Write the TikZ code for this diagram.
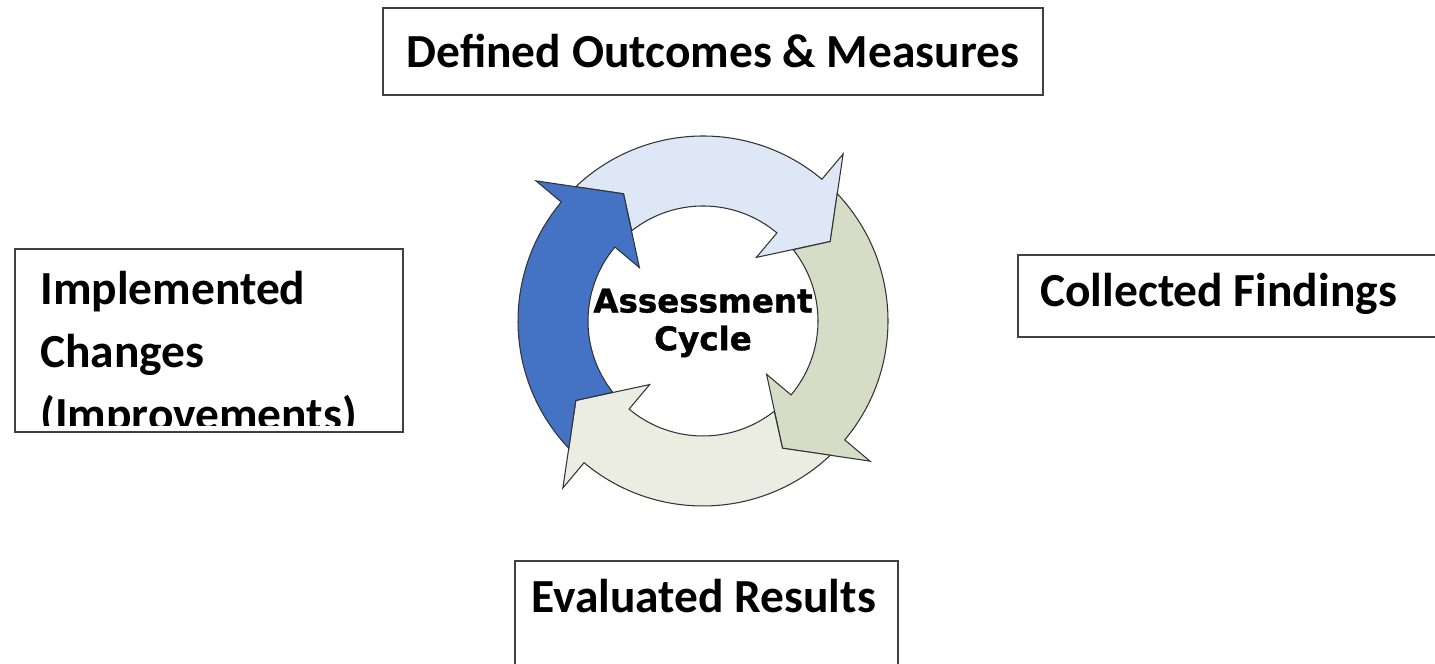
\documentclass[tikz,border=0pt]{standalone}
\usepackage{fontspec}
\setmainfont{Carlito}
\newfontfamily\cyclefont[BoldFeatures={FakeBold=1.2}]{DejaVu Sans}
\definecolor{stepblue}{RGB}{68,114,196}
\definecolor{steplight}{RGB}{221,231,245}
\definecolor{stepgreen}{RGB}{214,220,198}
\definecolor{stepgray}{RGB}{235,236,226}
\tikzset{
  outbox/.style = {draw=black!75,line width=0.8pt,inner sep=0pt},
  boxtext/.style = {font=\fontsize{27}{35.7}\selectfont\bfseries,inner sep=0pt},
  ringarrow/.style = {draw=black!80,line width=0.6pt,line join=miter}
}
% one arrow of the ring: #1 fill, #2 angle of the head base
\newcommand\cyclearrow[2]{%
  \filldraw[ringarrow,fill=#1]
    (#2+83.5:185) arc[start angle=#2+83.5,end angle=#2,radius=185]
    -- (#2:218) -- (#2-18:150) -- (#2:83) -- (#2:115)
    arc[start angle=#2,end angle=#2+78.3,radius=115]
    -- (#2+72:150) -- cycle;
}

\begin{document}
\begin{tikzpicture}[x=0.2mm,y=0.2mm]
  \useasboundingbox (0,0) rectangle (1435,664);
  % boxes
  \node[outbox,boxtext,minimum width=132mm,minimum height=17.4mm] (outcomes) at (713,612.5) {Defined Outcomes \& Measures};
  \node[outbox,minimum width=88.4mm,minimum height=16.4mm] (findings) at (1239,368) {};
  \node[outbox,minimum width=76.6mm,minimum height=26.6mm] (results) at (706.5,36.5) {};
  \node[outbox,minimum width=77.6mm,minimum height=36.6mm] (changes) at (209,323.5) {};
  % texts
  \node[boxtext,anchor=base west] (findingstext) at (1040,357) {Collected Findings};
  \node[boxtext,anchor=base west] (resultstext) at (531,51) {Evaluated Results};
  \begin{scope}
    \clip (changes.north west) rectangle ([yshift=1.4mm]changes.south east);
    \node[boxtext,anchor=base west] (changesa) at (40,359) {Implemented};
    \node[boxtext,anchor=base west] (changesb) at (40,296) {Changes};
    \node[boxtext,anchor=base west] (changesc) at (40,233) {(Improvements)};
  \end{scope}
  % cycle
  \begin{scope}[shift={(703,343)}]
    \cyclearrow{steplight}{50}
    \cyclearrow{stepgreen}{-40}
    \cyclearrow{stepgray}{-130}
    \cyclearrow{stepblue}{140}
  \end{scope}
  \node[align=center,font=\cyclefont\bfseries\fontsize{18.5}{21.5}\selectfont] (cycletext) at (703,341) {Assessment\\Cycle};
\end{tikzpicture}
\end{document}
